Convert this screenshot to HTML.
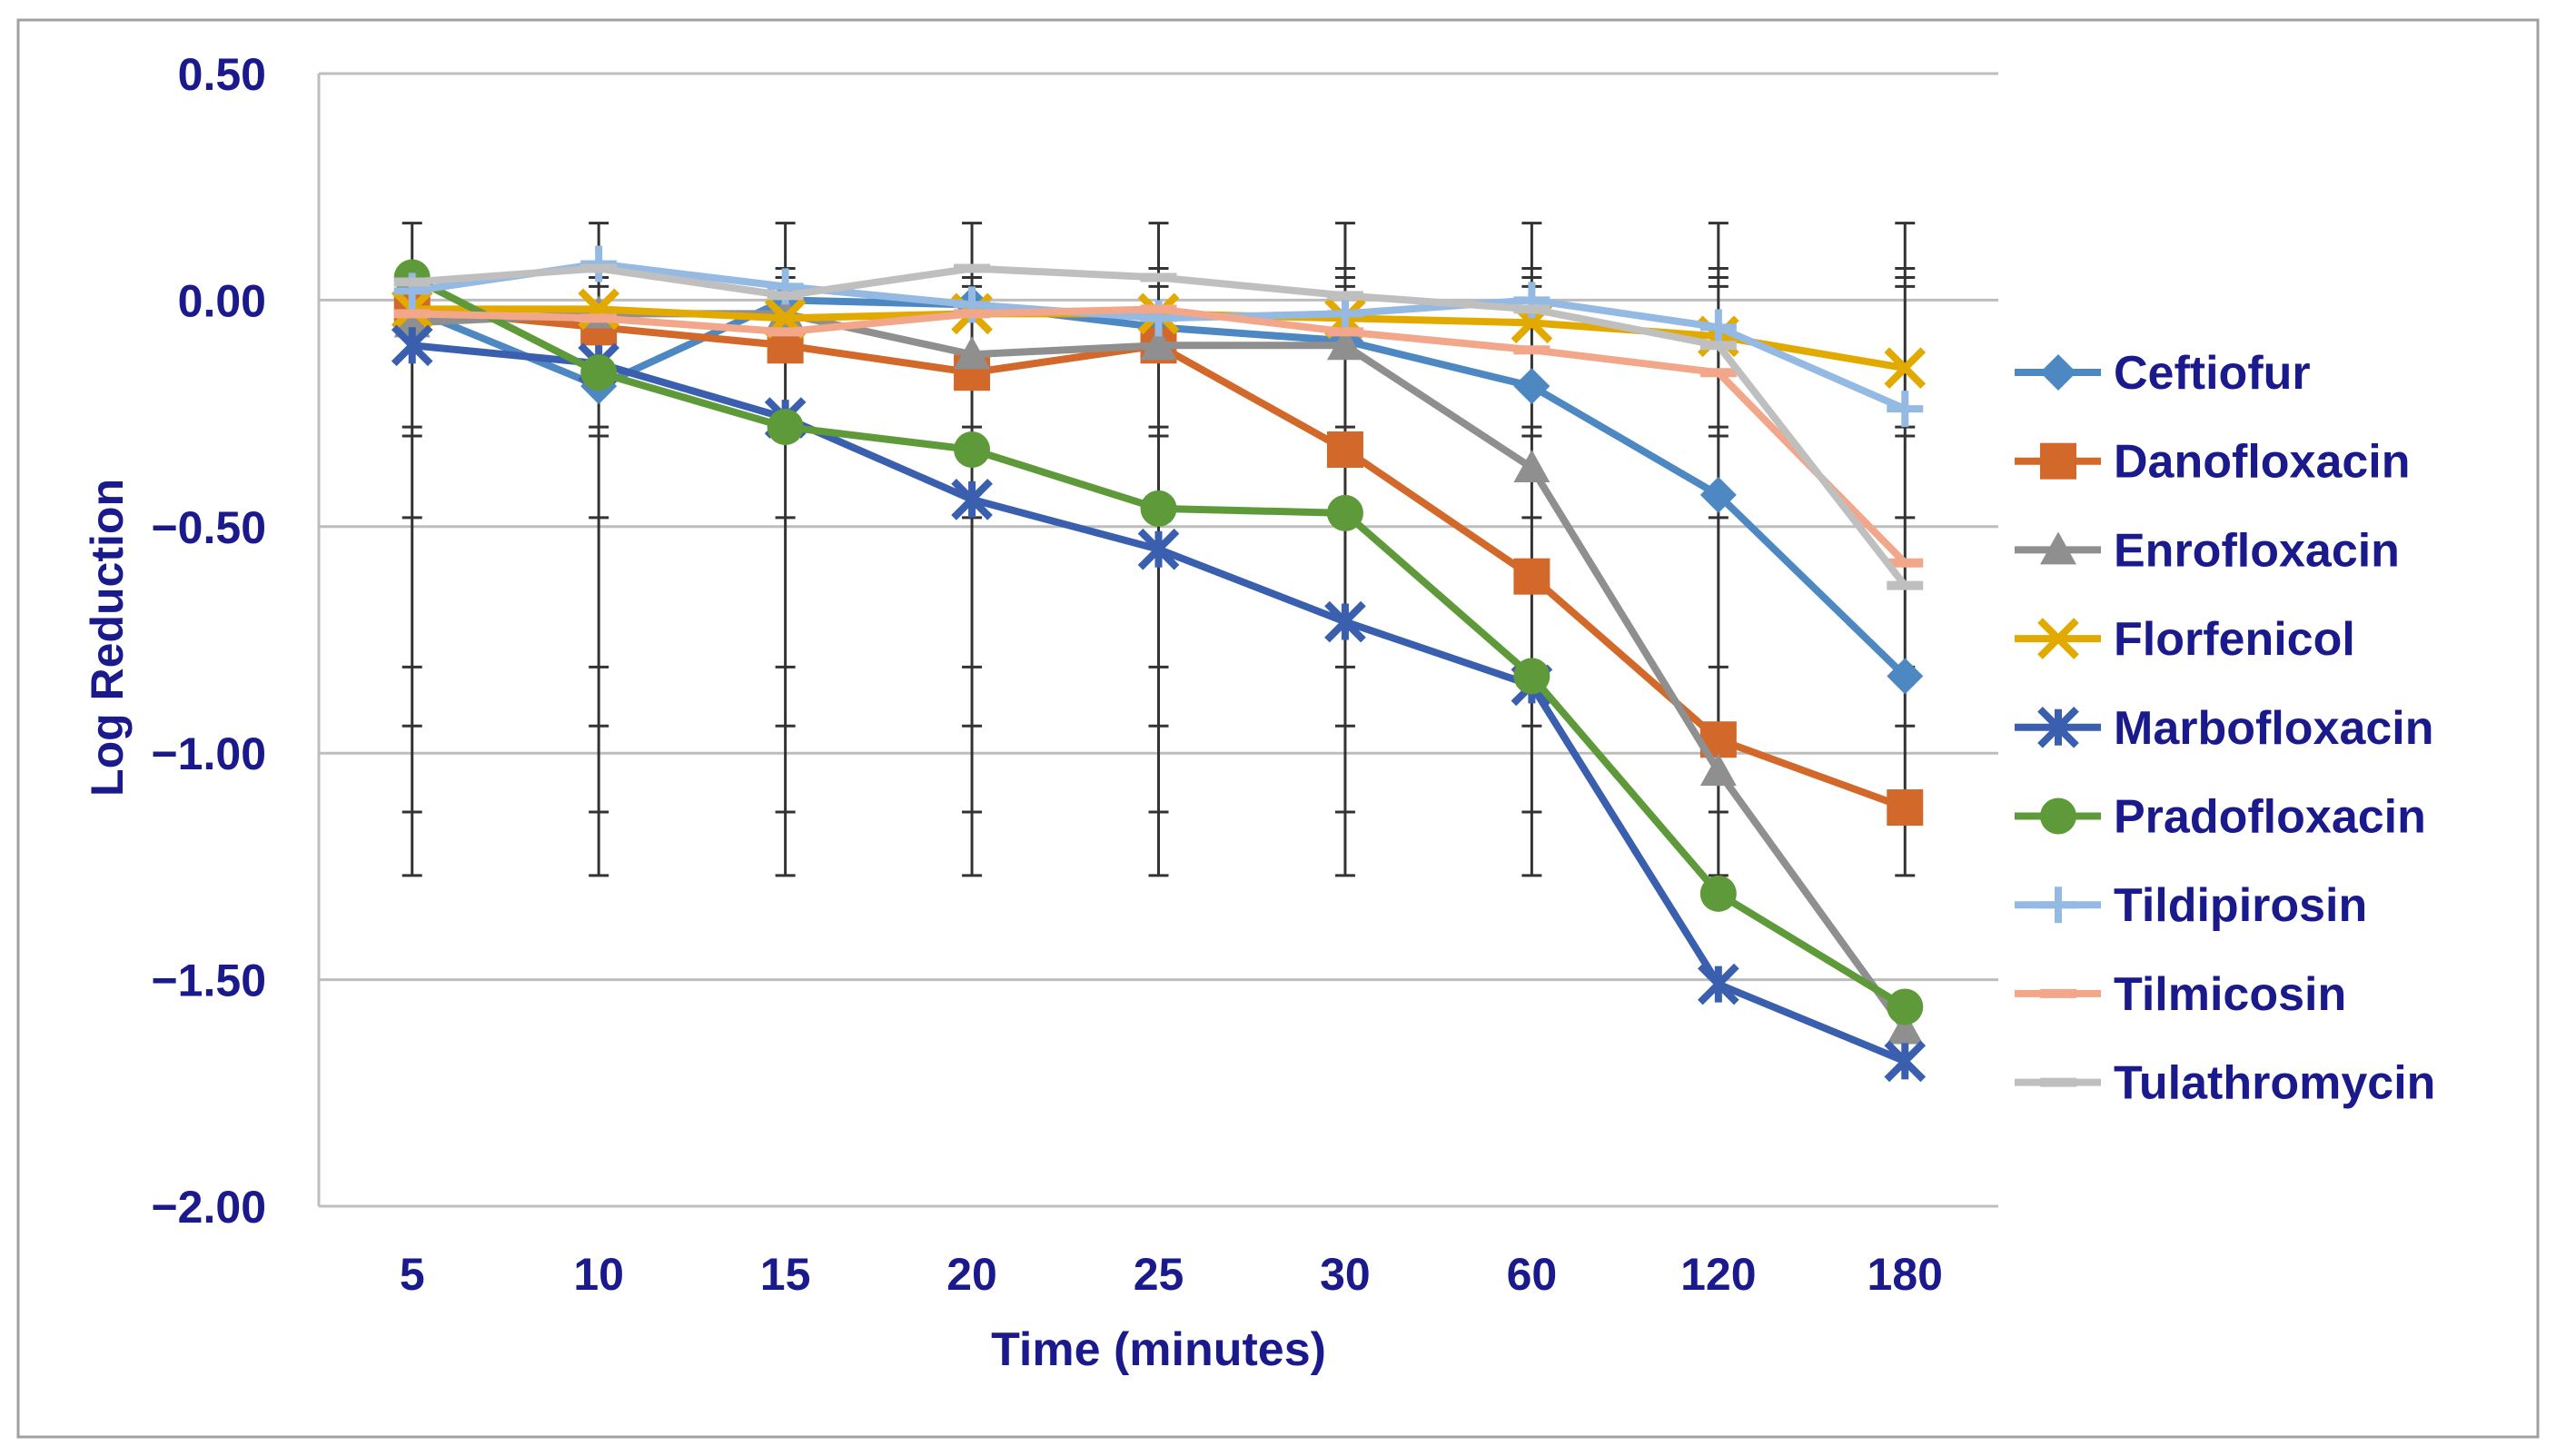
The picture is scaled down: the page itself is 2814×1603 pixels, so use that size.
<!DOCTYPE html>
<html><head><meta charset="utf-8"><style>
html,body{margin:0;padding:0;background:#fff;}
svg{display:block;}
text{font-family:"Liberation Sans Narrow","Liberation Sans",sans-serif;font-weight:bold;fill:#1a1a8c;}
</style></head><body>
<svg id="chart" width="2814" height="1603" viewBox="0 0 2814 1603" xmlns="http://www.w3.org/2000/svg">
<rect x="20" y="22" width="2774" height="1560" fill="#fff" stroke="#a0a0a0" stroke-width="3"/>
<g id="grid"></g><g id="errs"></g><g id="series"></g><g id="axes"></g><g id="legend"></g>
</svg>
<script>
const categories=["5","10","15","20","25","30","60","120","180"];
const yTicks=[0.5,0,-0.5,-1,-1.5,-2];
const yTickLabels=["0.50","0.00","\u22120.50","\u22121.00","\u22121.50","\u22122.00"];
const seriesNames=["Ceftiofur","Danofloxacin","Enrofloxacin","Florfenicol","Marbofloxacin","Pradofloxacin","Tildipirosin","Tilmicosin","Tulathromycin"];
const ceftiofur=[-0.02,-0.19,0.00,-0.01,-0.06,-0.09,-0.19,-0.43,-0.83];
const danofloxacin=[-0.02,-0.06,-0.10,-0.16,-0.10,-0.33,-0.61,-0.97,-1.12];
const enrofloxacin=[-0.05,-0.03,-0.03,-0.12,-0.10,-0.10,-0.37,-1.04,-1.61];
const florfenicol=[-0.02,-0.02,-0.04,-0.03,-0.03,-0.04,-0.05,-0.08,-0.15];
const marbofloxacin=[-0.10,-0.14,-0.26,-0.44,-0.55,-0.71,-0.85,-1.51,-1.68];
const pradofloxacin=[0.05,-0.16,-0.28,-0.33,-0.46,-0.47,-0.83,-1.31,-1.56];
const tildipirosin=[0.02,0.08,0.03,-0.01,-0.04,-0.03,0.00,-0.06,-0.24];
const tilmicosin=[-0.03,-0.04,-0.07,-0.03,-0.02,-0.07,-0.11,-0.16,-0.58];
const tulathromycin=[0.04,0.07,0.01,0.07,0.05,0.01,-0.02,-0.10,-0.63];
const errorCaps=[0.17,0.07,0.05,0.03,-0.28,-0.30,-0.48,-0.81,-0.94,-1.13,-1.27];

const NS="http://www.w3.org/2000/svg";
const L=351,R=2200,T=81,B=1328,yMax=0.5,yMin=-2;
const step=(R-L)/categories.length;
function X(i){return L+step*(i+0.5);}
function Y(v){return T+(yMax-v)/(yMax-yMin)*(B-T);}
function mk(tag,at,parent){const e=document.createElementNS(NS,tag);for(const k in at)e.setAttribute(k,at[k]);parent.appendChild(e);return e;}
const grid=document.getElementById('grid'),errs=document.getElementById('errs'),ser=document.getElementById('series'),axes=document.getElementById('axes'),leg=document.getElementById('legend');

yTicks.forEach((v,i)=>{
  const g=mk('line',{x1:L,x2:R,y1:Y(v),y2:Y(v),stroke:'#bdbdbd','stroke-width':3},grid);
  
  
  const t=mk('text',{x:293,y:Y(v)+18,'text-anchor':'end','font-size':50},axes);
  t.textContent=yTickLabels[i];
  
  
});
const ax=mk('line',{x1:L,x2:L,y1:T,y2:B,stroke:'#bdbdbd','stroke-width':3},grid);


categories.forEach((c,i)=>{
  const t=mk('text',{x:X(i),y:1420,'text-anchor':'middle','font-size':50},axes);
  t.textContent=c;
  
  
  const eb=mk('g',{},errs);
  
  
  mk('line',{x1:X(i),x2:X(i),y1:Y(errorCaps[0]),y2:Y(errorCaps[errorCaps.length-1]),stroke:'#333','stroke-width':3},eb);
  errorCaps.forEach(v=>mk('line',{x1:X(i)-11,x2:X(i)+11,y1:Y(v),y2:Y(v),stroke:'#333','stroke-width':3},eb));
});
const xt=mk('text',{x:(L+R)/2,y:1503,'text-anchor':'middle','font-size':52},axes);
xt.textContent="Time (minutes)";


const yt=mk('text',{x:0,y:0,'text-anchor':'middle','font-size':50,transform:'translate(135,702) rotate(-90)'},axes);
yt.textContent="Log Reduction";



const data=[ceftiofur,danofloxacin,enrofloxacin,florfenicol,marbofloxacin,pradofloxacin,tildipirosin,tilmicosin,tulathromycin];
const colors=["#4d88c2","#d2692a","#8f8f8f","#e2aa00","#3a5fae","#5e9a3a","#94b9e2","#f2a68a","#bfbfbf"];
const shapes=["diamond","square","triangle","x","star","circle","plus","dash","dash"];
function marker(g,s,x,y,c){
  const r=20;
  if(s==="diamond")mk('polygon',{points:`${x},${y-r} ${x+r},${y} ${x},${y+r} ${x-r},${y}`,fill:c},g);
  else if(s==="square")mk('rect',{x:x-r,y:y-r,width:2*r,height:2*r,fill:c},g);
  else if(s==="triangle")mk('polygon',{points:`${x},${y-r} ${x+r},${y+r*0.8} ${x-r},${y+r*0.8}`,fill:c},g);
  else if(s==="circle")mk('circle',{cx:x,cy:y,r:r,fill:c},g);
  else if(s==="x"){mk('path',{d:`M${x-r} ${y-r}L${x+r} ${y+r}M${x+r} ${y-r}L${x-r} ${y+r}`,stroke:c,'stroke-width':8},g);}
  else if(s==="star"){mk('path',{d:`M${x-r} ${y-r}L${x+r} ${y+r}M${x+r} ${y-r}L${x-r} ${y+r}M${x} ${y-r}L${x} ${y+r}`,stroke:c,'stroke-width':8},g);}
  else if(s==="plus"){mk('path',{d:`M${x-r} ${y}L${x+r} ${y}M${x} ${y-r}L${x} ${y+r}`,stroke:c,'stroke-width':8},g);}
  else mk('line',{x1:x-r,x2:x+r,y1:y,y2:y,stroke:c,'stroke-width':10},g);
}
data.forEach((arr,si)=>{
  const g=mk('g',{},ser);
  
  
  mk('polyline',{points:arr.map((v,i)=>X(i)+','+Y(v)).join(' '),fill:'none',stroke:colors[si],'stroke-width':8,'stroke-linejoin':'round'},g);
  arr.forEach((v,i)=>marker(g,shapes[si],X(i),Y(v),colors[si]));
  const ly=410+si*97.7;
  const lg=mk('g',{},leg);
  
  
  mk('line',{x1:2218,x2:2313,y1:ly,y2:ly,stroke:colors[si],'stroke-width':8},lg);
  marker(lg,shapes[si],2266,ly,colors[si]);
  const t=mk('text',{x:2327,y:ly+18,'font-size':52},lg);
  t.textContent=seriesNames[si];
});
</script>
</body></html>
